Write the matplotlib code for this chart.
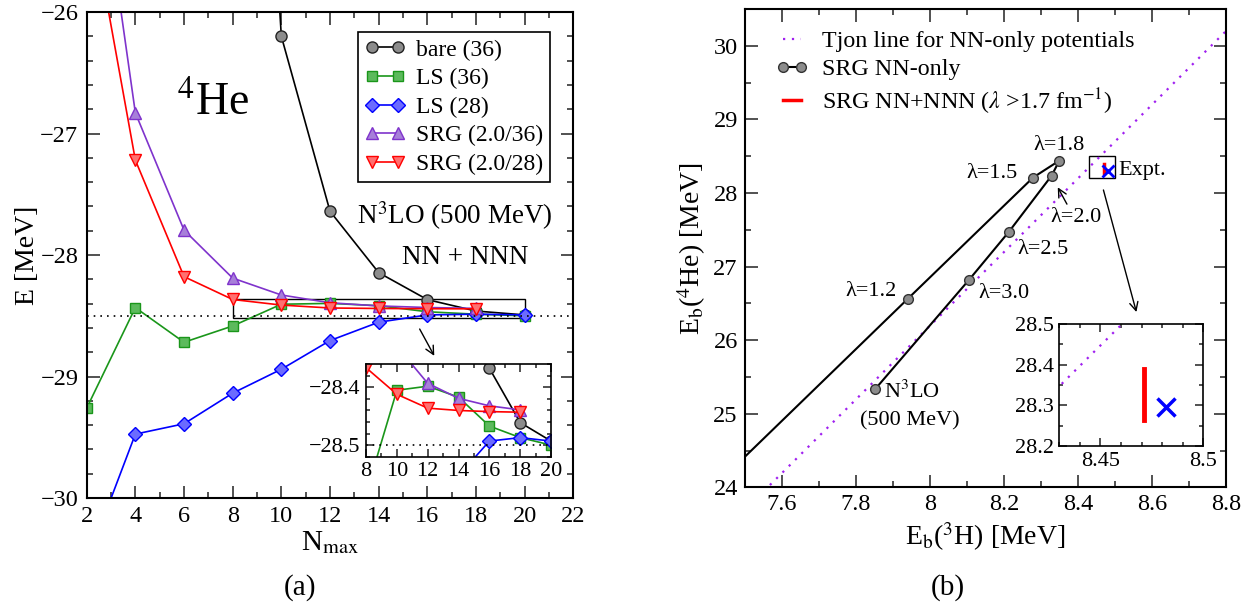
import matplotlib
matplotlib.use('Agg')
import matplotlib.pyplot as plt
from matplotlib.ticker import MultipleLocator, FuncFormatter
from matplotlib.patches import Rectangle

plt.rcParams['font.family'] = ['Liberation Serif', 'DejaVu Serif']
plt.rcParams['mathtext.fontset'] = 'stix'
plt.rcParams['axes.unicode_minus'] = True

# ---------------- data: panel (a) ----------------
nmax = [2, 4, 6, 8, 10, 12, 14, 16, 18, 20]
nmax_srg = [2, 4, 6, 8, 10, 12, 14, 16, 18]
nmax_bare = [8, 10, 12, 14, 16, 18, 20]
e_bare = [-19.8, -26.20, -27.64, -28.145, -28.367, -28.461, -28.493]
e_ls36 = [-29.26, -28.433, -28.718, -28.584, -28.405, -28.398, -28.417, -28.467, -28.487, -28.500]
e_ls28 = [-30.53, -29.474, -29.389, -29.137, -28.940, -28.704, -28.553, -28.493, -28.487, -28.493]
e_srg36 = [-24.0, -26.83, -27.795, -28.19, -28.329, -28.393, -28.419, -28.432, -28.439]
e_srg28 = [-25.0, -27.219, -28.178, -28.366, -28.412, -28.436, -28.440, -28.442, -28.443]
e_exact = -28.50
labels_a = ['bare (36)', 'LS (36)', 'LS (28)', 'SRG (2.0/36)', 'SRG (2.0/28)']

# ---------------- data: panel (b) ----------------
nn_eb3h = [7.852, 8.106, 8.214, 8.329, 8.350, 8.279, 7.941, 7.20]
nn_eb4he = [25.332, 26.82, 27.475, 28.235, 28.44, 28.21, 26.564, 22.95]
tjon_x = [7.50, 8.80]
tjon_y = [23.69, 30.20]
nnn_x = [8.4711, 8.4711]
nnn_y = [28.265, 28.390]
expt_x = [8.482]
expt_y = [28.296]
labels_b = ['Tjon line for NN-only potentials', 'SRG NN-only',
            r'SRG NN+NNN ($\lambda$ >1.7 fm$^{-1}$)']
lam_text = ['λ=1.8', 'λ=1.5', 'λ=2.0', 'λ=2.5', 'λ=1.2', 'λ=3.0']
lam_pos_x = [8.349, 8.168, 8.394, 8.305, 7.84, 8.20]
lam_pos_y = [28.65, 28.26, 27.66, 27.227, 26.667, 26.63]

fmt = FuncFormatter(lambda v, p: ('%g' % round(v, 6)).replace('-', '\u2212'))


def style(ax, xmaj, xmin, ymaj, ymin, lsize=17.5, maj=9, mnr=4.5, pad=5):
    ax.xaxis.set_major_locator(MultipleLocator(xmaj))
    ax.xaxis.set_minor_locator(MultipleLocator(xmin))
    ax.yaxis.set_major_locator(MultipleLocator(ymaj))
    ax.yaxis.set_minor_locator(MultipleLocator(ymin))
    ax.xaxis.set_major_formatter(fmt)
    ax.yaxis.set_major_formatter(fmt)
    ax.tick_params(which='both', direction='in', top=True, right=True,
                   labelsize=lsize, width=1.1, pad=pad, color='#222222')
    ax.tick_params(which='major', length=9)
    ax.tick_params(which='major', length=maj)
    ax.tick_params(which='minor', length=mnr)
    for s in ax.spines.values():
        s.set_linewidth(1.5)


fig = plt.figure(figsize=(12.51, 6.08), dpi=100)

# ================= panel (a) =================
axa = fig.add_axes([0.0693, 0.1809, 0.3890, 0.7993])
styles = [
    dict(color='black', marker='o', mfc='#8c8c8c', mec='#222222', ms=8),
    dict(color='#1a961a', marker='s', mfc='#5cba5c', mec='#1a961a', ms=7),
    dict(color='#0000ff', marker='D', mfc='#6b6bff', mec='#0000ff', ms=7),
    dict(color='#7f33cc', marker='^', mfc='#a77fd9', mec='#7f33cc', ms=9),
    dict(color='#ff0000', marker='v', mfc='#ff7070', mec='#ff0000', ms=9),
]
series = [(nmax_bare, e_bare), (nmax, e_ls36), (nmax, e_ls28),
          (nmax_srg, e_srg36), (nmax_srg, e_srg28)]


def draw_series(ax, with_labels):
    for (xs, ys), st, lab in zip(series, styles, labels_a):
        ax.plot(xs, ys, lw=1.2, mew=1.0, label=lab if with_labels else None, **st)
    ax.axhline(e_exact, color='black', ls=(0, (1, 3)), lw=1.2)


draw_series(axa, True)
axa.set_xlim(2, 22)
axa.set_ylim(-30, -26)
style(axa, 2, 1, 1, 0.2, pad=6)
axa.set_xlabel(r'N$_{\rm max}$', fontsize=21, labelpad=1)
axa.set_ylabel('E [MeV]', fontsize=20, labelpad=0)
axa.add_patch(Rectangle((8, -28.52), 12, 0.16, fill=False, ec='black', lw=1.0))
axa.annotate('', xy=(16.34, -28.85), xytext=(15.63, -28.589),
             arrowprops=dict(arrowstyle='->,head_length=0.6,head_width=0.3',
                             color='black', lw=1.0))
axa.text(5.71, -26.848, r'$^4$He', fontsize=33, ha='left', va='baseline')
axa.text(17.14, -27.68, r'N$^3$LO (500 MeV)', fontsize=19.5, ha='center', va='center')
axa.text(17.55, -28.02, 'NN + NNN', fontsize=19.5, ha='center', va='center')
leg = axa.legend(loc='upper right', bbox_to_anchor=(0.952, 0.959), fontsize=17,
                 numpoints=2, handlelength=1.7, handletextpad=0.45,
                 labelspacing=0.3, borderpad=0.3, borderaxespad=0,
                 fancybox=False, framealpha=1, edgecolor='black')
leg.get_frame().set_linewidth(1.2)

# inset (a)
axi = fig.add_axes([0.2926, 0.2489, 0.1479, 0.1520])
draw_series(axi, False)
axi.set_xlim(8, 20)
axi.set_ylim(-28.52, -28.36)
style(axi, 2, 1, 0.1, 0.02, lsize=16, maj=6, mnr=3, pad=4)
for s in axi.spines.values():
    s.set_linewidth(1.2)

fig.text(0.2398, 0.0329, '(a)', fontsize=21, ha='center', va='center')

# ================= panel (b) =================
axb = fig.add_axes([0.5953, 0.1985, 0.3847, 0.7867])
axb.plot(tjon_x, tjon_y, color='#a020f0', ls=(0, (1, 3)), lw=1.6,
         label=labels_b[0])
axb.plot(nn_eb3h, nn_eb4he, color='black', lw=1.5, marker='o', ms=7,
         mfc='#8c8c8c', mec='#333333', mew=1.0, label=labels_b[1])
axb.plot(nnn_x, nnn_y, color='#ff0000', lw=2.5, label=labels_b[2])
axb.plot(expt_x, expt_y, ls='none', marker='x', color='#0000ff', ms=8, mew=2)
axb.set_xlim(7.5, 8.8)
axb.set_ylim(24, 30.5)
style(axb, 0.2, 0.1, 1, 0.5, pad=5)
axb.set_xlabel(r'E$_{\rm b}$($^3$H) [MeV]', fontsize=20, labelpad=4)
axb.set_ylabel(r'E$_{\rm b}$($^4$He) [MeV]', fontsize=20, labelpad=4)
for t, x, y in zip(lam_text, lam_pos_x, lam_pos_y):
    axb.text(x, y, t, fontsize=16, ha='center', va='center')
axb.text(7.876, 25.30, r'N$^3$LO', fontsize=16, ha='left', va='center')
axb.text(7.947, 24.905, '(500 MeV)', fontsize=16, ha='center', va='center')
axb.text(8.51, 28.30, 'Expt.', fontsize=16, ha='left', va='center')
axb.add_patch(Rectangle((8.43, 28.2), 0.07, 0.3, fill=False, ec='black', lw=1.0))
arrow_kw = dict(arrowstyle='->,head_length=0.6,head_width=0.3', color='black', lw=1.0)
axb.annotate('', xy=(8.342, 28.11), xytext=(8.374, 27.815), arrowprops=arrow_kw)
axb.annotate('', xy=(8.56, 26.345), xytext=(8.467, 28.077), arrowprops=arrow_kw)
axb.legend(loc='upper left', bbox_to_anchor=(0.065, 0.955), fontsize=17.3,
           numpoints=2, handlelength=1.35, handletextpad=0.55,
           labelspacing=0.25, frameon=False, borderaxespad=0, borderpad=0)

# inset (b)
axj = fig.add_axes([0.8468, 0.2664, 0.1151, 0.2007])
axj.plot(tjon_x, tjon_y, color='#a020f0', ls=(0, (1, 3)), lw=1.6)
axj.plot(nnn_x, nnn_y, color='#ff0000', lw=3.5)
axj.plot(expt_x, expt_y, ls='none', marker='x', color='#0000ff', ms=13, mew=2.5)
axj.set_xlim(8.43, 8.50)
axj.set_ylim(28.2, 28.5)
style(axj, 0.05, 0.01, 0.1, 0.05, lsize=16, maj=6, mnr=3, pad=4)
for s in axj.spines.values():
    s.set_linewidth(1.2)

fig.text(0.7578, 0.0329, '(b)', fontsize=21, ha='center', va='center')

fig.savefig('out.png', dpi=100)
